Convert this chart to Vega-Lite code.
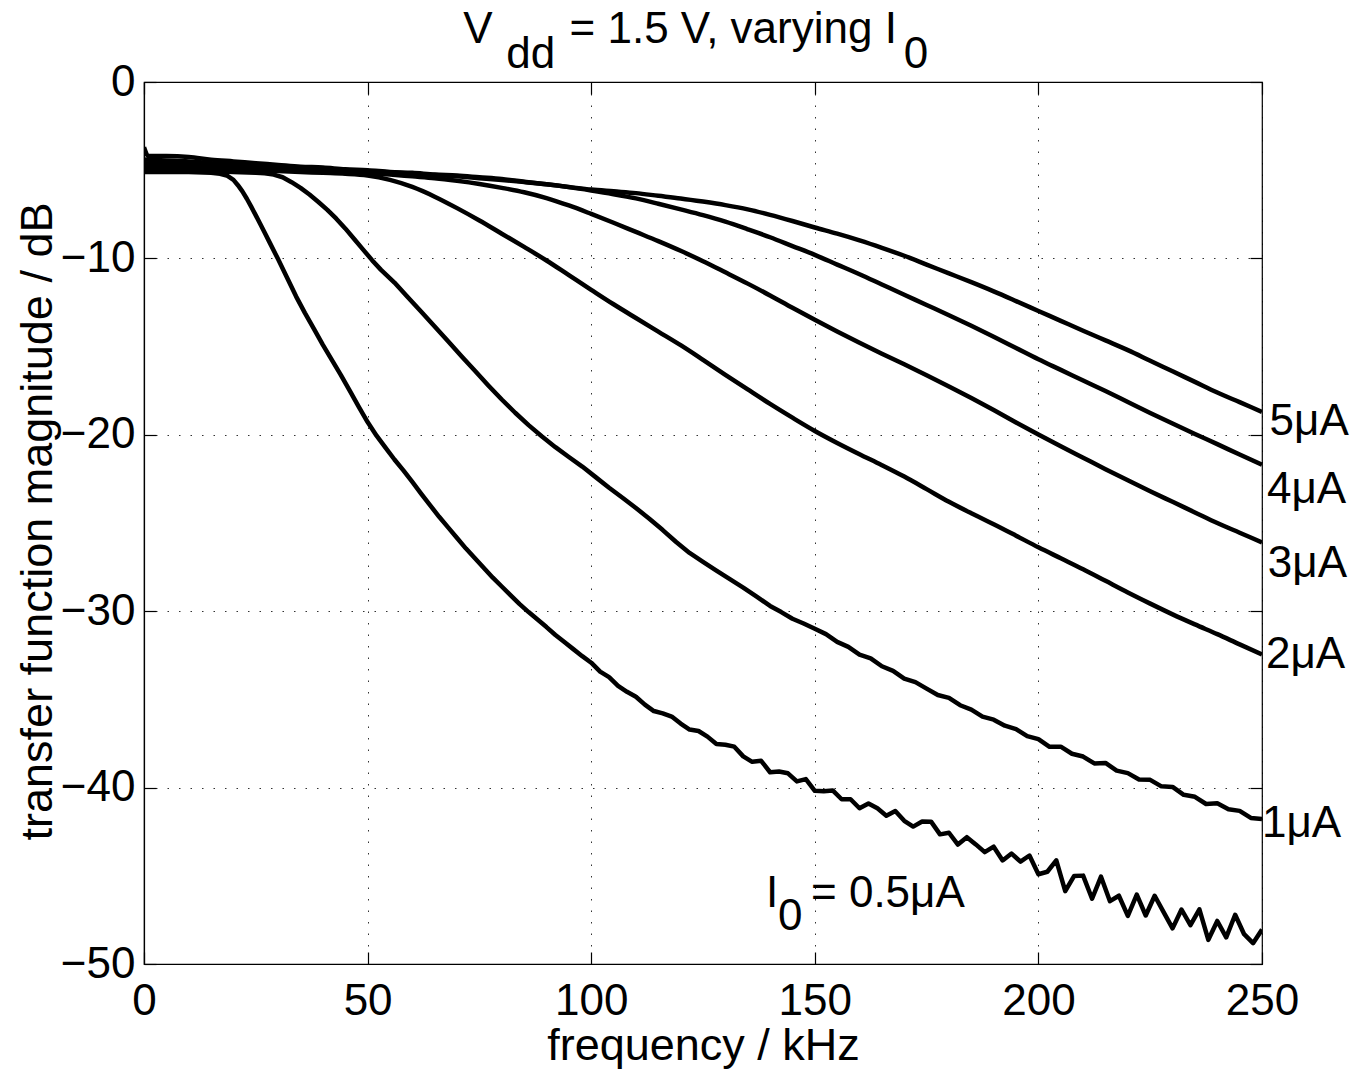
{
"$schema": "https://vega.github.io/schema/vega-lite/v6.json",
"width": 1118, "height": 882,
"autosize": {"type": "none"},
"padding": {"left": 144, "top": 82, "right": 94, "bottom": 105},
"background": "white",
"config": {
  "view": {"stroke": "black", "strokeWidth": 1.2},
  "font": "Liberation Sans",
  "axis": {"domainColor": "black", "domainWidth": 1.2, "tickColor": "black", "tickWidth": 1.2, "labelColor": "black", "titleColor": "black", "labelFont": "Liberation Sans", "titleFont": "Liberation Sans", "labelFontSize": 44, "titleFontSize": 45, "titleFontWeight": "normal", "gridColor": "black", "gridDash": [1.5, 10], "gridWidth": 1, "gridOpacity": 0.8, "labelFlush": false, "labelOverlap": false, "labelBound": false}
},
"resolve": {"scale": {"x": "independent", "y": "independent"}},
"layer": [
 {
  "data": {"values": [
{"I":"5","f":0,"dB":-3.7},{"I":"5","f":1,"dB":-4.2},{"I":"5","f":5,"dB":-4.2},{"I":"5","f":10,"dB":-4.25},{"I":"5","f":15,"dB":-4.4},{"I":"5","f":20,"dB":-4.5},{"I":"5","f":25,"dB":-4.6},{"I":"5","f":30,"dB":-4.7},{"I":"5","f":35,"dB":-4.8},{"I":"5","f":40,"dB":-4.85},{"I":"5","f":45,"dB":-4.95},{"I":"5","f":50,"dB":-5.0},{"I":"5","f":55,"dB":-5.1},{"I":"5","f":60,"dB":-5.15},{"I":"5","f":65,"dB":-5.25},{"I":"5","f":70,"dB":-5.3},{"I":"5","f":75,"dB":-5.4},{"I":"5","f":80,"dB":-5.5},{"I":"5","f":85,"dB":-5.65},{"I":"5","f":90,"dB":-5.8},{"I":"5","f":95,"dB":-5.95},{"I":"5","f":100,"dB":-6.1},{"I":"5","f":105,"dB":-6.2},{"I":"5","f":110,"dB":-6.3},{"I":"5","f":115,"dB":-6.45},{"I":"5","f":120,"dB":-6.6},{"I":"5","f":125,"dB":-6.78},{"I":"5","f":130,"dB":-6.98},{"I":"5","f":135,"dB":-7.22},{"I":"5","f":140,"dB":-7.53},{"I":"5","f":145,"dB":-7.88},{"I":"5","f":150,"dB":-8.25},{"I":"5","f":155,"dB":-8.6},{"I":"5","f":160,"dB":-8.98},{"I":"5","f":165,"dB":-9.4},{"I":"5","f":170,"dB":-9.85},{"I":"5","f":175,"dB":-10.35},{"I":"5","f":180,"dB":-10.85},{"I":"5","f":185,"dB":-11.35},{"I":"5","f":190,"dB":-11.87},{"I":"5","f":195,"dB":-12.42},{"I":"5","f":200,"dB":-12.98},{"I":"5","f":205,"dB":-13.54},{"I":"5","f":210,"dB":-14.1},{"I":"5","f":215,"dB":-14.65},{"I":"5","f":220,"dB":-15.2},{"I":"5","f":225,"dB":-15.8},{"I":"5","f":230,"dB":-16.4},{"I":"5","f":235,"dB":-17.0},{"I":"5","f":240,"dB":-17.6},{"I":"5","f":245,"dB":-18.15},{"I":"5","f":250,"dB":-18.7},
{"I":"4","f":0,"dB":-4.4},{"I":"4","f":5,"dB":-4.45},{"I":"4","f":10,"dB":-4.5},{"I":"4","f":15,"dB":-4.6},{"I":"4","f":20,"dB":-4.65},{"I":"4","f":25,"dB":-4.75},{"I":"4","f":30,"dB":-4.8},{"I":"4","f":35,"dB":-4.9},{"I":"4","f":40,"dB":-4.95},{"I":"4","f":45,"dB":-5.0},{"I":"4","f":50,"dB":-5.05},{"I":"4","f":55,"dB":-5.12},{"I":"4","f":60,"dB":-5.2},{"I":"4","f":65,"dB":-5.27},{"I":"4","f":70,"dB":-5.35},{"I":"4","f":75,"dB":-5.45},{"I":"4","f":80,"dB":-5.55},{"I":"4","f":85,"dB":-5.67},{"I":"4","f":90,"dB":-5.8},{"I":"4","f":95,"dB":-5.96},{"I":"4","f":100,"dB":-6.15},{"I":"4","f":105,"dB":-6.36},{"I":"4","f":110,"dB":-6.6},{"I":"4","f":115,"dB":-6.9},{"I":"4","f":120,"dB":-7.22},{"I":"4","f":125,"dB":-7.55},{"I":"4","f":130,"dB":-7.92},{"I":"4","f":135,"dB":-8.35},{"I":"4","f":140,"dB":-8.8},{"I":"4","f":145,"dB":-9.3},{"I":"4","f":150,"dB":-9.8},{"I":"4","f":155,"dB":-10.35},{"I":"4","f":160,"dB":-10.9},{"I":"4","f":165,"dB":-11.48},{"I":"4","f":170,"dB":-12.06},{"I":"4","f":175,"dB":-12.64},{"I":"4","f":180,"dB":-13.22},{"I":"4","f":185,"dB":-13.82},{"I":"4","f":190,"dB":-14.44},{"I":"4","f":195,"dB":-15.08},{"I":"4","f":200,"dB":-15.72},{"I":"4","f":205,"dB":-16.32},{"I":"4","f":210,"dB":-16.92},{"I":"4","f":215,"dB":-17.52},{"I":"4","f":220,"dB":-18.14},{"I":"4","f":225,"dB":-18.76},{"I":"4","f":230,"dB":-19.36},{"I":"4","f":235,"dB":-19.95},{"I":"4","f":240,"dB":-20.53},{"I":"4","f":245,"dB":-21.12},{"I":"4","f":250,"dB":-21.7},
{"I":"3","f":0,"dB":-4.6},{"I":"3","f":5,"dB":-4.65},{"I":"3","f":10,"dB":-4.7},{"I":"3","f":15,"dB":-4.75},{"I":"3","f":20,"dB":-4.8},{"I":"3","f":25,"dB":-4.85},{"I":"3","f":30,"dB":-4.9},{"I":"3","f":35,"dB":-4.97},{"I":"3","f":40,"dB":-5.05},{"I":"3","f":45,"dB":-5.1},{"I":"3","f":50,"dB":-5.17},{"I":"3","f":55,"dB":-5.25},{"I":"3","f":60,"dB":-5.35},{"I":"3","f":65,"dB":-5.45},{"I":"3","f":70,"dB":-5.6},{"I":"3","f":75,"dB":-5.78},{"I":"3","f":80,"dB":-6.0},{"I":"3","f":85,"dB":-6.25},{"I":"3","f":90,"dB":-6.58},{"I":"3","f":95,"dB":-7.0},{"I":"3","f":100,"dB":-7.48},{"I":"3","f":105,"dB":-7.98},{"I":"3","f":110,"dB":-8.5},{"I":"3","f":115,"dB":-9.02},{"I":"3","f":120,"dB":-9.57},{"I":"3","f":125,"dB":-10.16},{"I":"3","f":130,"dB":-10.79},{"I":"3","f":135,"dB":-11.43},{"I":"3","f":140,"dB":-12.1},{"I":"3","f":145,"dB":-12.8},{"I":"3","f":150,"dB":-13.48},{"I":"3","f":155,"dB":-14.14},{"I":"3","f":160,"dB":-14.78},{"I":"3","f":165,"dB":-15.4},{"I":"3","f":170,"dB":-16.0},{"I":"3","f":175,"dB":-16.62},{"I":"3","f":180,"dB":-17.26},{"I":"3","f":185,"dB":-17.92},{"I":"3","f":190,"dB":-18.6},{"I":"3","f":195,"dB":-19.3},{"I":"3","f":200,"dB":-19.98},{"I":"3","f":205,"dB":-20.65},{"I":"3","f":210,"dB":-21.3},{"I":"3","f":215,"dB":-21.95},{"I":"3","f":220,"dB":-22.58},{"I":"3","f":225,"dB":-23.2},{"I":"3","f":230,"dB":-23.8},{"I":"3","f":235,"dB":-24.4},{"I":"3","f":240,"dB":-25.0},{"I":"3","f":245,"dB":-25.55},{"I":"3","f":250,"dB":-26.1},
{"I":"2","f":0,"dB":-4.8},{"I":"2","f":5,"dB":-4.8},{"I":"2","f":10,"dB":-4.85},{"I":"2","f":15,"dB":-4.9},{"I":"2","f":20,"dB":-4.95},{"I":"2","f":25,"dB":-5.0},{"I":"2","f":30,"dB":-5.05},{"I":"2","f":35,"dB":-5.1},{"I":"2","f":40,"dB":-5.15},{"I":"2","f":45,"dB":-5.2},{"I":"2","f":50,"dB":-5.3},{"I":"2","f":55,"dB":-5.55},{"I":"2","f":60,"dB":-5.95},{"I":"2","f":65,"dB":-6.5},{"I":"2","f":70,"dB":-7.15},{"I":"2","f":75,"dB":-7.85},{"I":"2","f":80,"dB":-8.6},{"I":"2","f":85,"dB":-9.35},{"I":"2","f":90,"dB":-10.12},{"I":"2","f":95,"dB":-10.95},{"I":"2","f":100,"dB":-11.78},{"I":"2","f":105,"dB":-12.6},{"I":"2","f":110,"dB":-13.38},{"I":"2","f":115,"dB":-14.15},{"I":"2","f":120,"dB":-14.92},{"I":"2","f":125,"dB":-15.75},{"I":"2","f":130,"dB":-16.6},{"I":"2","f":135,"dB":-17.43},{"I":"2","f":140,"dB":-18.25},{"I":"2","f":145,"dB":-19.03},{"I":"2","f":150,"dB":-19.78},{"I":"2","f":155,"dB":-20.46},{"I":"2","f":160,"dB":-21.1},{"I":"2","f":165,"dB":-21.72},{"I":"2","f":170,"dB":-22.37},{"I":"2","f":175,"dB":-23.08},{"I":"2","f":180,"dB":-23.8},{"I":"2","f":185,"dB":-24.45},{"I":"2","f":190,"dB":-25.07},{"I":"2","f":195,"dB":-25.72},{"I":"2","f":200,"dB":-26.38},{"I":"2","f":205,"dB":-27.0},{"I":"2","f":210,"dB":-27.62},{"I":"2","f":215,"dB":-28.28},{"I":"2","f":220,"dB":-28.94},{"I":"2","f":225,"dB":-29.57},{"I":"2","f":230,"dB":-30.18},{"I":"2","f":235,"dB":-30.75},{"I":"2","f":240,"dB":-31.3},{"I":"2","f":245,"dB":-31.88},{"I":"2","f":250,"dB":-32.45},
{"I":"1","f":0,"dB":-5.0},{"I":"1","f":5,"dB":-5.0},{"I":"1","f":10,"dB":-5.0},{"I":"1","f":15,"dB":-5.05},{"I":"1","f":20,"dB":-5.1},{"I":"1","f":25,"dB":-5.15},{"I":"1","f":27,"dB":-5.18},{"I":"1","f":29,"dB":-5.25},{"I":"1","f":31,"dB":-5.4},{"I":"1","f":33,"dB":-5.68},{"I":"1","f":35,"dB":-6.0},{"I":"1","f":37,"dB":-6.38},{"I":"1","f":39,"dB":-6.8},{"I":"1","f":41,"dB":-7.25},{"I":"1","f":43,"dB":-7.75},{"I":"1","f":45,"dB":-8.3},{"I":"1","f":47,"dB":-8.9},{"I":"1","f":49,"dB":-9.5},{"I":"1","f":51,"dB":-10.1},{"I":"1","f":53,"dB":-10.65},{"I":"1","f":56,"dB":-11.37},{"I":"1","f":59,"dB":-12.2},{"I":"1","f":62,"dB":-13.02},{"I":"1","f":65,"dB":-13.86},{"I":"1","f":68,"dB":-14.7},{"I":"1","f":71,"dB":-15.55},{"I":"1","f":74,"dB":-16.37},{"I":"1","f":77,"dB":-17.2},{"I":"1","f":80,"dB":-18.0},{"I":"1","f":83,"dB":-18.75},{"I":"1","f":86,"dB":-19.45},{"I":"1","f":89,"dB":-20.1},{"I":"1","f":92,"dB":-20.7},{"I":"1","f":95,"dB":-21.26},{"I":"1","f":98,"dB":-21.8},{"I":"1","f":101,"dB":-22.4},{"I":"1","f":104,"dB":-23.0},{"I":"1","f":107,"dB":-23.57},{"I":"1","f":110,"dB":-24.15},{"I":"1","f":113,"dB":-24.76},{"I":"1","f":116,"dB":-25.4},{"I":"1","f":119,"dB":-26.08},{"I":"1","f":122,"dB":-26.7},{"I":"1","f":125,"dB":-27.2},{"I":"1","f":128,"dB":-27.7},{"I":"1","f":131,"dB":-28.18},{"I":"1","f":134,"dB":-28.66},{"I":"1","f":137,"dB":-29.17},{"I":"1","f":140,"dB":-29.7},{"I":"1","f":142.5,"dB":-30.05},{"I":"1","f":145,"dB":-30.43},{"I":"1","f":147.5,"dB":-30.7},{"I":"1","f":150,"dB":-31.0},{"I":"1","f":152.5,"dB":-31.3},{"I":"1","f":155,"dB":-31.74},{"I":"1","f":157.5,"dB":-32.02},{"I":"1","f":160,"dB":-32.46},{"I":"1","f":162.5,"dB":-32.67},{"I":"1","f":165,"dB":-33.12},{"I":"1","f":167.5,"dB":-33.38},{"I":"1","f":170,"dB":-33.82},{"I":"1","f":172.5,"dB":-34.02},{"I":"1","f":175,"dB":-34.39},{"I":"1","f":177.5,"dB":-34.75},{"I":"1","f":180,"dB":-34.91},{"I":"1","f":182.5,"dB":-35.33},{"I":"1","f":185,"dB":-35.58},{"I":"1","f":187.5,"dB":-35.98},{"I":"1","f":190,"dB":-36.15},{"I":"1","f":192.5,"dB":-36.49},{"I":"1","f":195,"dB":-36.68},{"I":"1","f":197.5,"dB":-37.08},{"I":"1","f":200,"dB":-37.25},{"I":"1","f":202.5,"dB":-37.69},{"I":"1","f":205,"dB":-37.68},{"I":"1","f":207.5,"dB":-38.08},{"I":"1","f":210,"dB":-38.24},{"I":"1","f":212.5,"dB":-38.63},{"I":"1","f":215,"dB":-38.6},{"I":"1","f":217.5,"dB":-39.04},{"I":"1","f":220,"dB":-39.18},{"I":"1","f":222.5,"dB":-39.54},{"I":"1","f":225,"dB":-39.56},{"I":"1","f":227.5,"dB":-39.93},{"I":"1","f":230,"dB":-39.96},{"I":"1","f":232.5,"dB":-40.41},{"I":"1","f":235,"dB":-40.52},{"I":"1","f":237.5,"dB":-40.93},{"I":"1","f":240,"dB":-40.89},{"I":"1","f":242.5,"dB":-41.23},{"I":"1","f":245,"dB":-41.32},{"I":"1","f":247.5,"dB":-41.72},{"I":"1","f":250,"dB":-41.78},
{"I":"0.5","f":0,"dB":-5.1},{"I":"0.5","f":5,"dB":-5.1},{"I":"0.5","f":10,"dB":-5.1},{"I":"0.5","f":15,"dB":-5.15},{"I":"0.5","f":17,"dB":-5.2},{"I":"0.5","f":18.5,"dB":-5.3},{"I":"0.5","f":20,"dB":-5.55},{"I":"0.5","f":21,"dB":-5.85},{"I":"0.5","f":22,"dB":-6.2},{"I":"0.5","f":23,"dB":-6.62},{"I":"0.5","f":24,"dB":-7.08},{"I":"0.5","f":25,"dB":-7.56},{"I":"0.5","f":26,"dB":-8.05},{"I":"0.5","f":27,"dB":-8.55},{"I":"0.5","f":28,"dB":-9.05},{"I":"0.5","f":30,"dB":-10.05},{"I":"0.5","f":32,"dB":-11.1},{"I":"0.5","f":34,"dB":-12.15},{"I":"0.5","f":36,"dB":-13.1},{"I":"0.5","f":38,"dB":-14.0},{"I":"0.5","f":40,"dB":-14.9},{"I":"0.5","f":42,"dB":-15.75},{"I":"0.5","f":44,"dB":-16.6},{"I":"0.5","f":46,"dB":-17.5},{"I":"0.5","f":48,"dB":-18.4},{"I":"0.5","f":50,"dB":-19.28},{"I":"0.5","f":52,"dB":-20.05},{"I":"0.5","f":54,"dB":-20.73},{"I":"0.5","f":56,"dB":-21.4},{"I":"0.5","f":58,"dB":-22.02},{"I":"0.5","f":60,"dB":-22.67},{"I":"0.5","f":62,"dB":-23.35},{"I":"0.5","f":64,"dB":-24.0},{"I":"0.5","f":66,"dB":-24.65},{"I":"0.5","f":68,"dB":-25.25},{"I":"0.5","f":70,"dB":-25.85},{"I":"0.5","f":72,"dB":-26.45},{"I":"0.5","f":74,"dB":-27.0},{"I":"0.5","f":76,"dB":-27.55},{"I":"0.5","f":78,"dB":-28.1},{"I":"0.5","f":80,"dB":-28.6},{"I":"0.5","f":82,"dB":-29.1},{"I":"0.5","f":84,"dB":-29.6},{"I":"0.5","f":86,"dB":-30.05},{"I":"0.5","f":88,"dB":-30.47},{"I":"0.5","f":90,"dB":-30.9},{"I":"0.5","f":92,"dB":-31.35},{"I":"0.5","f":94,"dB":-31.75},{"I":"0.5","f":96,"dB":-32.15},{"I":"0.5","f":98,"dB":-32.55},
{"I":"0.5","f":100,"dB":-32.92},{"I":"0.5","f":102,"dB":-33.43},{"I":"0.5","f":104,"dB":-33.74},{"I":"0.5","f":106,"dB":-34.23},{"I":"0.5","f":108,"dB":-34.57},{"I":"0.5","f":110,"dB":-34.85},{"I":"0.5","f":112,"dB":-35.3},{"I":"0.5","f":114,"dB":-35.66},{"I":"0.5","f":116,"dB":-35.79},{"I":"0.5","f":118,"dB":-35.97},{"I":"0.5","f":120,"dB":-36.37},{"I":"0.5","f":122,"dB":-36.71},{"I":"0.5","f":124,"dB":-36.79},{"I":"0.5","f":126,"dB":-37.11},{"I":"0.5","f":128,"dB":-37.53},{"I":"0.5","f":130,"dB":-37.57},{"I":"0.5","f":132,"dB":-37.68},{"I":"0.5","f":134,"dB":-38.23},{"I":"0.5","f":136,"dB":-38.54},{"I":"0.5","f":138,"dB":-38.48},{"I":"0.5","f":140,"dB":-39.13},{"I":"0.5","f":142,"dB":-39.09},{"I":"0.5","f":144,"dB":-39.19},{"I":"0.5","f":146,"dB":-39.65},{"I":"0.5","f":148,"dB":-39.52},{"I":"0.5","f":150,"dB":-40.18},{"I":"0.5","f":152,"dB":-40.21},{"I":"0.5","f":154,"dB":-40.16},{"I":"0.5","f":156,"dB":-40.66},{"I":"0.5","f":158,"dB":-40.66},{"I":"0.5","f":160,"dB":-41.17},{"I":"0.5","f":162,"dB":-40.9},{"I":"0.5","f":164,"dB":-41.17},{"I":"0.5","f":166,"dB":-41.59},{"I":"0.5","f":168,"dB":-41.33},{"I":"0.5","f":170,"dB":-41.88},{"I":"0.5","f":172,"dB":-42.21},{"I":"0.5","f":174,"dB":-41.92},{"I":"0.5","f":176,"dB":-41.93},{"I":"0.5","f":178,"dB":-42.65},{"I":"0.5","f":180,"dB":-42.56},{"I":"0.5","f":182,"dB":-43.23},{"I":"0.5","f":184,"dB":-42.81},{"I":"0.5","f":186,"dB":-43.22},{"I":"0.5","f":188,"dB":-43.66},{"I":"0.5","f":190,"dB":-43.35},{"I":"0.5","f":192,"dB":-44.13},{"I":"0.5","f":194,"dB":-43.74},{"I":"0.5","f":196,"dB":-44.2},{"I":"0.5","f":198,"dB":-43.85},{"I":"0.5","f":200,"dB":-44.91},{"I":"0.5","f":202,"dB":-44.77},{"I":"0.5","f":204,"dB":-44.12},{"I":"0.5","f":206,"dB":-45.87},{"I":"0.5","f":208,"dB":-45.01},{"I":"0.5","f":210,"dB":-44.99},{"I":"0.5","f":212,"dB":-46.3},{"I":"0.5","f":214,"dB":-45.05},{"I":"0.5","f":216,"dB":-46.44},{"I":"0.5","f":218,"dB":-46.13},{"I":"0.5","f":220,"dB":-47.27},{"I":"0.5","f":222,"dB":-46.07},{"I":"0.5","f":224,"dB":-47.25},{"I":"0.5","f":226,"dB":-46.13},{"I":"0.5","f":228,"dB":-47.06},{"I":"0.5","f":230,"dB":-47.98},{"I":"0.5","f":232,"dB":-46.91},{"I":"0.5","f":234,"dB":-47.8},{"I":"0.5","f":236,"dB":-46.9},{"I":"0.5","f":238,"dB":-48.63},{"I":"0.5","f":240,"dB":-47.56},{"I":"0.5","f":242,"dB":-48.49},{"I":"0.5","f":244,"dB":-47.21},{"I":"0.5","f":246,"dB":-48.31},{"I":"0.5","f":248,"dB":-48.82},{"I":"0.5","f":250,"dB":-48.05}
  ]},
  "layer": [
   {
    "transform": [{"filter": "datum.I !== '1' && datum.I !== '0.5'"}],
    "mark": {"type": "line", "color": "black", "strokeWidth": 4.5, "interpolate": "monotone", "clip": true},
    "encoding": {
      "x": {"field": "f", "type": "quantitative", "scale": {"domain": [0, 250], "nice": false, "zero": false},
            "axis": {"title": "frequency / kHz", "values": [0, 50, 100, 150, 200, 250], "grid": true, "tickSize": -12, "labelPadding": 27, "titleY": 95, "titleBaseline": "alphabetic"}},
      "y": {"field": "dB", "type": "quantitative", "scale": {"domain": [-50, 0], "nice": false, "zero": false},
            "axis": {"title": "transfer function magnitude / dB", "values": [0, -10, -20, -30, -40, -50], "grid": true, "tickSize": -12, "labelPadding": 21, "titleX": -93, "titleY": 439, "titleAngle": -90, "titleAlign": "center", "titleBaseline": "alphabetic"}},
      "detail": {"field": "I"}
    }
   },
   {
    "transform": [{"filter": "datum.I === '1' || datum.I === '0.5'"}],
    "mark": {"type": "line", "color": "black", "strokeWidth": 4.5, "interpolate": "linear", "clip": true, "strokeJoin": "round"},
    "encoding": {
      "x": {"field": "f", "type": "quantitative"},
      "y": {"field": "dB", "type": "quantitative"},
      "detail": {"field": "I"}
    }
   },
   {
    "data": {"values": [
      {"t": "V", "f": 71.4, "dB": 2.194},
      {"t": "dd", "f": 81.0, "dB": 0.8},
      {"t": "= 1.5 V, varying I", "f": 95.15, "dB": 2.194},
      {"t": "0", "f": 169.9, "dB": 0.8},
      {"t": "5μA", "f": 251.7, "dB": -20.01},
      {"t": "4μA", "f": 251.1, "dB": -23.87},
      {"t": "3μA", "f": 251.3, "dB": -28.06},
      {"t": "2μA", "f": 250.9, "dB": -33.22},
      {"t": "1μA", "f": 250.0, "dB": -42.8},
      {"t": "I", "f": 139.06, "dB": -46.75},
      {"t": "0", "f": 141.77, "dB": -48.07},
      {"t": "= 0.5μA", "f": 149.15, "dB": -46.75}
    ]},
    "mark": {"type": "text", "align": "left", "baseline": "alphabetic", "fontSize": 44, "font": "Liberation Sans", "color": "black"},
    "encoding": {
      "x": {"field": "f", "type": "quantitative"},
      "y": {"field": "dB", "type": "quantitative"},
      "text": {"field": "t"}
    }
   }
  ]
 },
 {
  "data": {"values": [{}]},
  "mark": {"type": "point", "opacity": 0},
  "encoding": {
    "x": {"datum": 0, "type": "quantitative", "scale": {"domain": [0, 250], "nice": false, "zero": false},
          "axis": {"orient": "top", "values": [0, 50, 100, 150, 200, 250], "labels": false, "grid": false, "domain": false, "tickSize": -12, "title": null}},
    "y": {"datum": 0, "type": "quantitative", "scale": {"domain": [-50, 0], "nice": false, "zero": false},
          "axis": {"orient": "right", "values": [0, -10, -20, -30, -40, -50], "labels": false, "grid": false, "domain": false, "tickSize": -12, "title": null}}
  }
 }
]
}
